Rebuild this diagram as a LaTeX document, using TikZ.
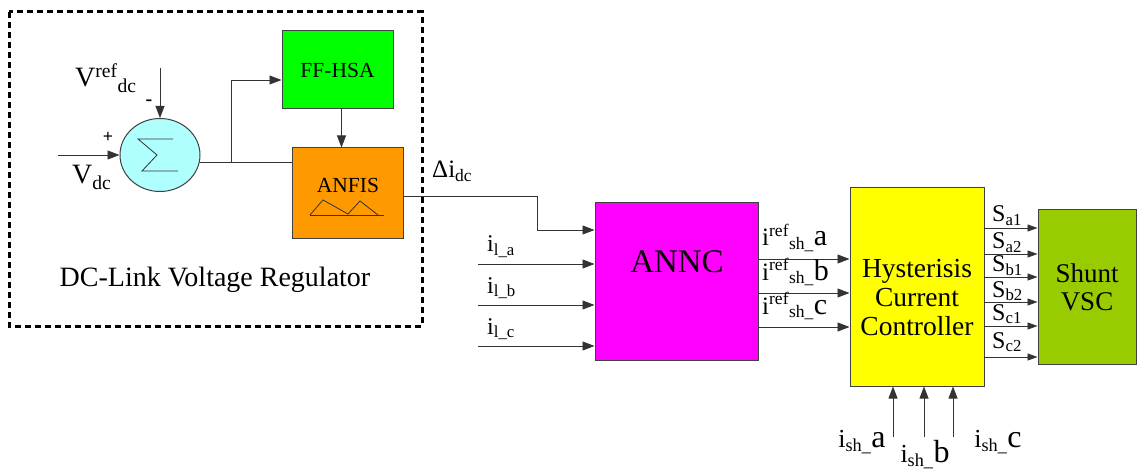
\documentclass[tikz,border=0pt]{standalone}
\usepackage{fontspec}
\setmainfont{LiberationSerif}[Extension=.ttf, UprightFont=*-Regular, BoldFont=*-Bold, ItalicFont=*-Italic, BoldItalicFont=*-BoldItalic]
\usetikzlibrary{arrows.meta,shapes.geometric}
\definecolor{sumcyan}{HTML}{AFFFFF}
\definecolor{ffgreen}{HTML}{00FF00}
\definecolor{anfisorange}{HTML}{FF9900}
\definecolor{anncmagenta}{HTML}{FF00FF}
\definecolor{hccyellow}{HTML}{FFFF00}
\definecolor{vscgreen}{HTML}{99CC00}
\begin{document}
\begin{tikzpicture}[x=1pt,y=-1pt]

% --- Define Styles ---
\tikzset{
    blk/.style={draw=black!75, line width=1pt, inner sep=0pt, align=center},
    sig/.style={line width=0.8pt, draw=black!80},
    arr/.style={sig, -{Triangle[length=12pt,width=9pt]}},
    sarr/.style={sig, -{Triangle[length=10pt,width=7pt]}},
    lbl/.style={inner sep=0pt, font=\fontsize{26}{28}\selectfont},
    slbl/.style={inner sep=0pt, font=\fontsize{24}{26}\selectfont},
    frame/.style={line width=3pt, dash pattern=on 6pt off 4pt}
}

\useasboundingbox (0,0) rectangle (1137,470);

% ================= 1. DC-LINK VOLTAGE REGULATOR =================
\draw[frame] (9,12) rectangle (422,326);
\node[blk, ellipse, fill=sumcyan, minimum width=80pt, minimum height=73pt] (sum) at (160,155) {};
% Sigma drawn inside the summing junction
\draw[sig] (173,139) -- (138,139) -- (157,155) -- (142,171) -- (178,171);
\node[blk, fill=ffgreen, minimum width=111pt, minimum height=78pt, font=\fontsize{21.5}{23}\selectfont] (ffhsa) at (337.5,70) {FF-HSA};
\node[blk, fill=anfisorange, minimum width=111pt, minimum height=91pt] (anfis) at (347.5,193.5) {};
\node[inner sep=0pt, font=\fontsize{21.5}{23}\selectfont] (anfislbl) at (348,185) {ANFIS};
% membership functions
\draw[sig] (310,215) -- (384,215);
\draw[sig] (310,215) -- (323,200) -- (348,214) -- (360,201) -- (378,215);
\node[inner sep=0pt, font=\fontsize{28}{30}\selectfont, anchor=base] (dclbl) at (215,287) {DC-Link Voltage Regulator};

\coordinate (vdcin) at (58,155);
\coordinate (vrefin) at (160,68);
\draw[arr] (vdcin) -- (sum.west);
\draw[arr] (vrefin) -- (sum.north);
\node[lbl, anchor=base west, font=\fontsize{28}{30}\selectfont] (vreflbl) at (75,87) {V\textsuperscript{ref}\textsubscript{dc}};
\node[lbl, anchor=base west, font=\fontsize{28}{30}\selectfont] (vdclbl) at (72,184) {V\textsubscript{dc}};
\node[inner sep=0pt, font=\fontsize{20}{20}\selectfont\bfseries] (minus) at (149,103) {-};
\node[inner sep=0pt, font=\fontsize{18}{18}\selectfont\bfseries] (plus) at (108,137) {+};

\coordinate (br) at (231,162);
\coordinate (brtop) at (231,80);
\draw[sig] (sum.-11) -- (sum.-11 -| anfis.west);
\draw[arr] (br) -- (brtop) -- (brtop -| ffhsa.west);
\draw[arr] ([xshift=4pt]ffhsa.south) -- ([xshift=4pt]ffhsa.south |- anfis.north);

% ================= 2. ANNC =================
\node[blk, fill=anncmagenta, minimum width=163pt, minimum height=157pt] (annc) at (676.5,281.5) {};
\node[inner sep=0pt, font=\fontsize{33}{35}\selectfont] (annclbl) at (677,262) {ANNC};

\coordinate (dturn) at (537,230);
\draw[arr] ([yshift=-3pt]anfis.east) -| (dturn) -- (dturn -| annc.west);
\node[inner sep=0pt, font=\fontsize{25}{27}\selectfont, anchor=base west] (dilbl) at (432,178) {Δi\textsubscript{dc}};

\foreach \n/\y in {a/264, b/305, c/346} {
    \coordinate (l\n) at (478,\y);
    \draw[arr] (l\n) -- (l\n -| annc.west);
    \node[slbl, anchor=base west] (ll\n) at (487,\y-12) {i\textsubscript{l\_\n}};
}

% ================= 3. HYSTERISIS CURRENT CONTROLLER =================
\node[blk, fill=hccyellow, minimum width=134pt, minimum height=198pt] (hcc) at (917,287) {};
\node[inner sep=0pt, align=center, font=\fontsize{27.5}{29}\selectfont] (hcclbl) at (917,298) {Hysterisis\\Current\\Controller};

\foreach \n/\y in {a/259, b/293, c/327} {
    \coordinate (r\n) at (758,\y);
    \draw[arr] (r\n) -- (r\n -| hcc.west);
    \node[inner sep=0pt, anchor=base west, font=\fontsize{25}{27}\selectfont] (rl\n) at (762,\y-13)
        {i\textsuperscript{ref}\textsubscript{sh\_}{\fontsize{30}{30}\selectfont\n}};
}

\foreach \n/\x in {a/893, b/924, c/953} {
    \coordinate (s\n) at (\x,437);
    \draw[arr] (s\n) -- (s\n |- hcc.south);
}
\node[inner sep=0pt, anchor=base, font=\fontsize{26}{28}\selectfont] (sla) at (862,447) {i\textsubscript{sh\_}{\fontsize{32}{32}\selectfont a}};
\node[inner sep=0pt, anchor=base, font=\fontsize{26}{28}\selectfont] (slb) at (925,462) {i\textsubscript{sh\_}{\fontsize{32}{32}\selectfont b}};
\node[inner sep=0pt, anchor=base, font=\fontsize{26}{28}\selectfont] (slc) at (998,447) {i\textsubscript{sh\_}{\fontsize{32}{32}\selectfont c}};

% ================= 4. SHUNT VSC =================
\node[blk, fill=vscgreen, minimum width=98pt, minimum height=154pt, font=\fontsize{27}{28}\selectfont] (vsc) at (1087,287) {Shunt\\VSC};

\foreach \k/\b in {a1/222, a2/249, b1/272, b2/297, c1/320, c2/348} {
    \node[inner sep=0pt, anchor=base west, font=\fontsize{24}{26}\selectfont] (gl\k) at (992,\b) {S\textsubscript{\k}};
}
\foreach \k/\y in {a1/228, a2/254, b1/277, b2/302, c1/326, c2/357} {
    \coordinate (g\k) at (984,\y);
    \draw[sarr] (g\k) -- (g\k -| vsc.west);
}

\end{tikzpicture}
\end{document}
